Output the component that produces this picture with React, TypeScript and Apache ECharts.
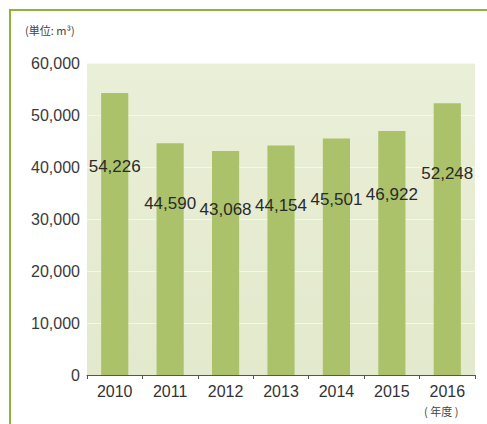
import React, { useEffect, useRef } from "react";
import * as echarts from "echarts";

const categories = ["2010", "2011", "2012", "2013", "2014", "2015", "2016"];
const values = [54226, 44590, 43068, 44154, 45501, 46922, 52248];
const unitLabel = "(単位: m³)";
const xUnitLabel = "( 年度 )";

export default function App() {
  const ref = useRef<HTMLDivElement>(null);
  useEffect(() => {
    if (!ref.current) return;
    const chart = echarts.init(ref.current, null, { renderer: "svg" });
    chart.setOption({
      animation: false,
      backgroundColor: "#ffffff",
      grid: {
        left: 87,
        right: 12,
        top: 63,
        bottom: 49,
        show: true,
        borderWidth: 0,
        backgroundColor: new echarts.graphic.LinearGradient(0, 0, 0, 1, [
          { offset: 0, color: "#eaefd8" },
          { offset: 1, color: "#e3e9cc" },
        ]),
      },
      xAxis: {
        type: "category",
        data: categories,
        axisLine: { show: true, lineStyle: { color: "#555", width: 1 } },
        axisTick: { show: true, length: 4, lineStyle: { color: "#555" } },
        axisLabel: {
          color: "#333",
          fontSize: 16,
          fontFamily: "Liberation Sans, Arial, sans-serif",
          margin: 8,
        },
        splitLine: { show: false },
      },
      yAxis: {
        type: "value",
        min: 0,
        max: 60000,
        interval: 10000,
        axisLine: { show: false },
        axisTick: { show: false },
        axisLabel: {
          color: "#3a3a3a",
          fontSize: 16,
          fontFamily: "Liberation Sans, Arial, sans-serif",
          margin: 7,
          formatter: (v: number) => v.toLocaleString("en-US"),
        },
        splitLine: { show: true, lineStyle: { color: "rgba(255,255,255,0.55)", width: 1 } },
      },
      series: [
        {
          type: "bar",
          data: values,
          barWidth: "49%",
          itemStyle: { color: "#abc26b" },
          label: {
            show: true,
            position: ["50%", "26%"],
            align: "center",
            verticalAlign: "middle",
            color: "#2a2a2a",
            fontSize: 17,
            fontFamily: "Liberation Sans, Arial, sans-serif",
            formatter: (p: any) => Number(p.value).toLocaleString("en-US"),
          },
        },
      ],
      graphic: [
        {
          type: "line",
          shape: { x1: 10, y1: 10, x2: 10, y2: 424 },
          style: { stroke: "#8db33a", lineWidth: 2 },
        },
        {
          type: "line",
          shape: { x1: 9, y1: 10, x2: 487, y2: 10 },
          style: { stroke: "#8db33a", lineWidth: 2 },
        },
        {
          type: "text",
          left: 25,
          top: 24,
          style: {
            text: unitLabel,
            fill: "#444",
            fontSize: 11,
            fontFamily: "Noto Sans CJK JP, sans-serif",
          },
        },
        {
          type: "text",
          left: 424,
          top: 405,
          style: {
            text: xUnitLabel,
            fill: "#444",
            fontSize: 11,
            fontFamily: "Noto Sans CJK JP, sans-serif",
          },
        },
      ],
    });
    return () => chart.dispose();
  }, []);
  return (
    <div
      ref={ref}
      style={{ position: "fixed", left: 0, top: 0, width: 487, height: 424 }}
    />
  );
}
